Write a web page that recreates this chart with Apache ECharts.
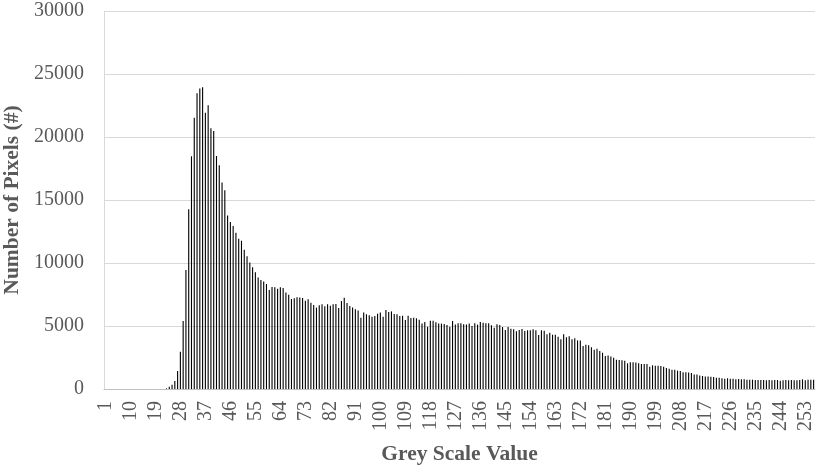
<!DOCTYPE html>
<html>
<head>
<meta charset="utf-8">
<script src="https://cdn.jsdelivr.net/npm/echarts@6/dist/echarts.min.js"></script>
<style>
html,body{margin:0;padding:0;background:#fff;}
#chart{width:817px;height:467px;}
</style>
</head>
<body>
<div id="chart"></div>
<script>
// Grey scale values 1..256
var categories = [];
for (var g = 1; g <= 256; g++) categories.push(String(g));

// Number of pixels per grey scale value
var zerosLow = [0,0,0,0,0,0,0,0,0,0,0,0,0,0,0,0,0,0,0,0,0,0]; // 1..22
var counts23to68 = [50,180,330,630,1430,2960,5400,9440,14260,18470,21530,23470,23840,23940,21930,22510,
  20690,20480,18490,17750,16380,15770,13760,13250,12940,12410,11930,11770,11060,10530,10030,9660,
  9260,8840,8650,8540,8330,7860,8100,8070,7960,8070,8020,7650,7490,7140];
var counts69to133 = [7200,7290,7260,7220,7010,7120,6850,6670,6460,6640,6720,6560,6720,6610,6720,6750,
  6430,6980,7250,6830,6590,6460,6320,6240,5660,6080,5930,5850,5740,5790,5980,6080,5740,6270,6110,6160,
  5950,5930,5790,5820,5480,5820,5630,5660,5610,5500,5190,5320,4950,5420,5420,5290,5190,5190,5160,5080,
  4950,5400,5110,5210,5210,5130,5120,5200,5000];
var counts134to194 = [5210,5110,5320,5260,5210,5210,5050,4870,5130,5080,4920,4680,4920,4790,4740,4580,
  4680,4760,4600,4660,4660,4740,4660,4290,4660,4630,4340,4470,4310,4310,4150,3940,4340,4100,4180,3940,
  4020,3860,3840,3410,3520,3470,3310,3120,3200,3020,2880,2620,2650,2570,2490,2330,2300,2280,2250,2040,
  2120,2130,2110,2050,1990];
var counts195to256 = [1980,1980,1770,1880,1850,1850,1830,1770,1670,1610,1530,1530,1460,1430,1320,1320,
  1300,1270,1160,1160,1080,1030,1000,1000,980,950,900,900,850,820,850,820,820,770,790,770,770,740,740,
  740,710,710,710,710,690,710,690,710,710,660,690,710,690,710,690,690,710,770,690,740,740,740];

var pixelCounts = [].concat(zerosLow, counts23to68, counts69to133, counts134to194, counts195to256);

var yTicks = {min: 0, max: 30000, interval: 5000};

var chart = echarts.init(document.getElementById('chart'), null, {renderer: 'canvas'});
var textColor = '#595959';
var font = '"Liberation Serif", "Times New Roman", serif';

chart.setOption({
  animation: false,
  backgroundColor: '#ffffff',
  grid: {left: 104, right: 2, top: 11, bottom: 78, containLabel: false, outerBoundsMode: 'none'},
  xAxis: {
    type: 'category',
    data: categories,
    name: 'Grey Scale Value',
    nameLocation: 'middle',
    nameGap: 54,
    nameTextStyle: {color: textColor, fontFamily: font, fontSize: 21.5, fontWeight: 'bold'},
    axisLine: {show: true, lineStyle: {color: '#bfbfbf', width: 1}},
    axisTick: {show: false},
    axisLabel: {
      interval: 8,
      rotate: 90,
      color: textColor,
      fontFamily: font,
      fontSize: 20,
      margin: 12
    },
    splitLine: {show: false}
  },
  yAxis: {
    type: 'value',
    min: yTicks.min,
    max: yTicks.max,
    interval: yTicks.interval,
    name: 'Number of Pixels (#)',
    nameLocation: 'middle',
    nameGap: 81,
    nameRotate: 90,
    nameTextStyle: {color: textColor, fontFamily: font, fontSize: 21.5, fontWeight: 'bold'},
    axisLine: {show: true, lineStyle: {color: '#d9d9d9', width: 1}},
    axisTick: {show: false},
    axisLabel: {color: textColor, fontFamily: font, fontSize: 20, margin: 20,
      formatter: function (v) { return String(v); }},
    splitLine: {show: true, lineStyle: {color: '#d9d9d9', width: 1}}
  },
  series: [{
    type: 'bar',
    data: pixelCounts,
    barWidth: '40%',
    itemStyle: {color: '#000000'},
    emphasis: {disabled: true}
  }]
});
</script>
</body>
</html>
